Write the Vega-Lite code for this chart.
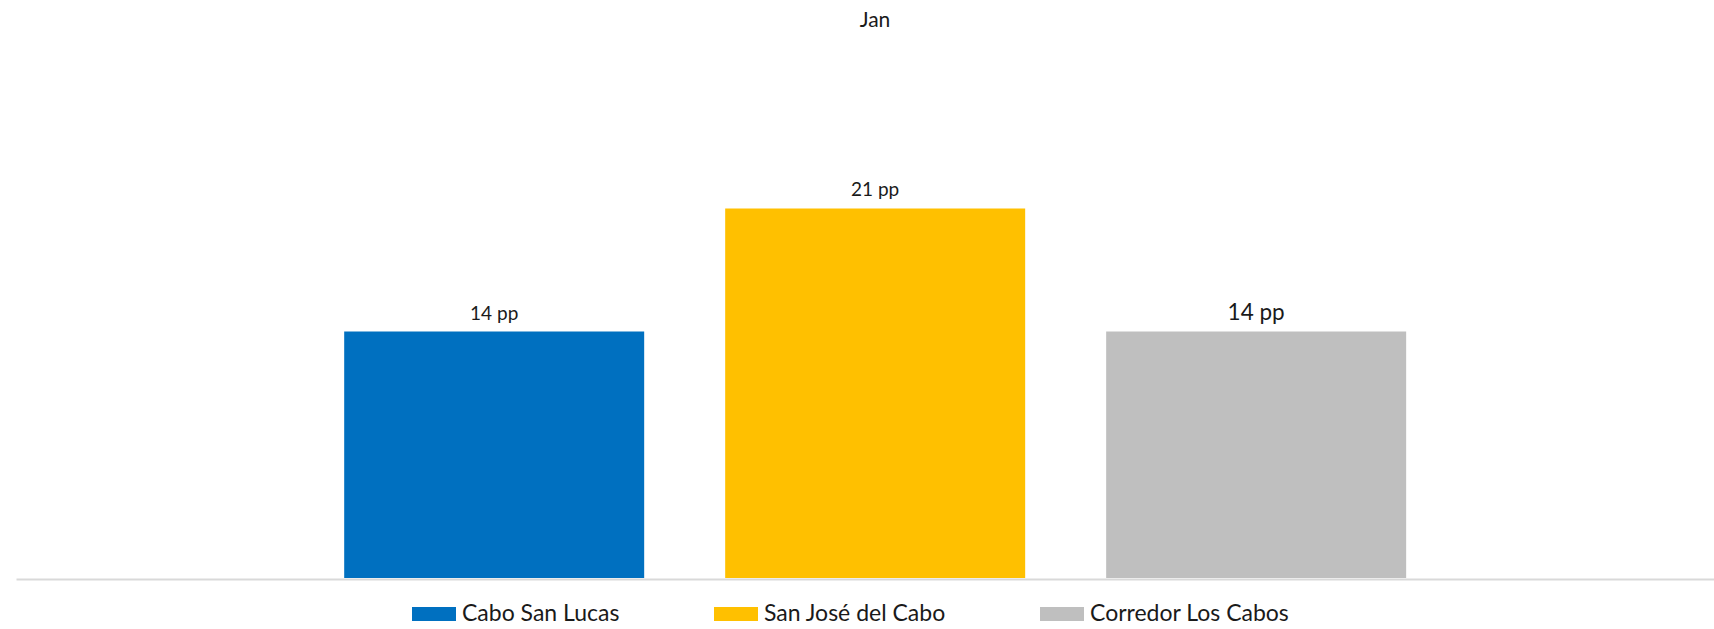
{
  "$schema": "https://vega.github.io/schema/vega-lite/v6.json",
  "width": 1698,
  "height": 440,
  "autosize": {"type": "none"},
  "padding": {"left": 16, "top": 138, "right": 0, "bottom": 51},
  "background": "white",
  "config": {
    "view": {"stroke": null},
    "font": "Lato"
  },
  "title": {
    "text": "Jan",
    "anchor": "middle",
    "frame": "group",
    "fontSize": 21,
    "fontWeight": "normal",
    "font": "Lato",
    "color": "#1a1a1a",
    "baseline": "alphabetic",
    "offset": 90,
    "dx": 10
  },
  "data": {
    "values": [
      {"region": "Cabo San Lucas", "value": 14, "label": "14 pp"},
      {"region": "San José del Cabo", "value": 21, "label": "21 pp"},
      {"region": "Corredor Los Cabos", "value": 14, "label": "14 pp"}
    ]
  },
  "encoding": {
    "x": {
      "field": "region",
      "type": "nominal",
      "sort": null,
      "scale": {"paddingInner": 0.2126, "paddingOuter": 0.8347, "align": 0.516},
      "axis": {
        "title": null,
        "labels": false,
        "ticks": false,
        "domainColor": "#D9D9D9",
        "domainWidth": 2,
        "offset": 1
      }
    },
    "y": {
      "field": "value",
      "type": "quantitative",
      "scale": {"domain": [0, 25], "nice": false},
      "axis": null
    }
  },
  "layer": [
    {
      "mark": {"type": "bar"},
      "encoding": {
        "color": {
          "field": "region",
          "type": "nominal",
          "sort": null,
          "scale": {
            "domain": ["Cabo San Lucas", "San José del Cabo", "Corredor Los Cabos"],
            "range": ["#0070C0", "#FFC000", "#BFBFBF"]
          },
          "legend": {
            "title": null,
            "orient": "none",
            "direction": "horizontal",
            "legendX": 396,
            "legendY": 454,
            "padding": 0,
            "symbolType": "M-1,-0.318L1,-0.318L1,0.318L-1,0.318Z",
            "symbolSize": 1936,
            "symbolStrokeWidth": 0,
            "symbolOpacity": 1,
            "labelOffset": 6,
            "labelFontSize": 23,
            "labelFont": "Lato",
            "labelColor": "#1a1a1a",
            "labelLimit": 400,
            "columnPadding": 94
          }
        }
      }
    },
    {
      "mark": {"type": "text", "baseline": "alphabetic", "dy": -12, "font": "Lato", "color": "#1a1a1a"},
      "encoding": {
        "text": {"field": "label"},
        "size": {
          "condition": {"test": "datum.region === 'Corredor Los Cabos'", "value": 22.5},
          "value": 19
        }
      }
    }
  ]
}
